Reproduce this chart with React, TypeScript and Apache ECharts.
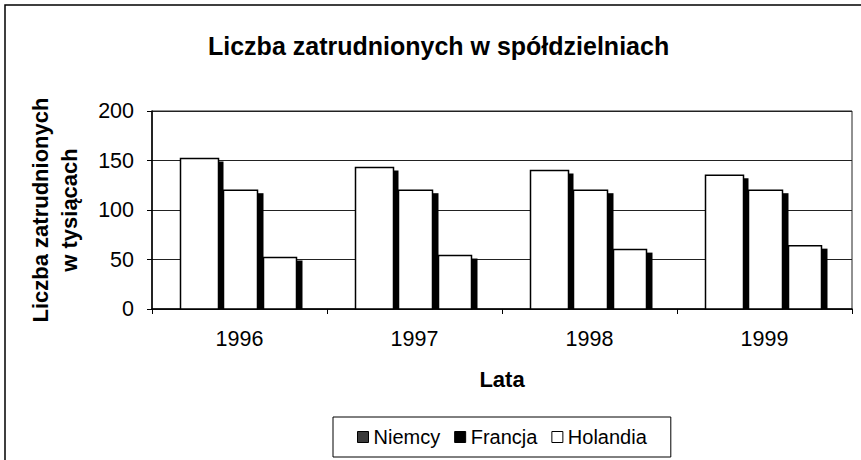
import React, { useEffect, useRef } from "react";
import * as echarts from "echarts";

const years = ["1996", "1997", "1998", "1999"];
const niemcy = [152, 143, 140, 135];
const francja = [120, 120, 120, 120];
const holandia = [52, 54, 60, 64];
const seriesNames = ["Niemcy", "Francja", "Holandia"];
const seriesValues = [niemcy, francja, holandia];
const yMin = 0;
const yMax = 200;
const yInterval = 50;

const FONT = "Arial, 'Liberation Sans', Helvetica, sans-serif";

// bar geometry (pixels at a 175px category band)
const barStart = [-59, -16, 24];
const barWidth = [38, 34, 33];
const shadowWidth = [5, 6, 6];

const legendColors = ["#3a3a3a", "#000000", "#ffffff"];

function makeRenderItem(k: number) {
  return (params: any, api: any) => {
    const ci = api.value(0);
    const v = api.value(1);
    const base = api.coord([ci, 0]);
    const top = api.coord([ci, v]);
    const band = api.size([1, 0])[0];
    const s = band / 175;
    const x = base[0] + barStart[k] * s;
    const w = barWidth[k] * s;
    const sw = shadowWidth[k] * s;
    const h = base[1] - top[1];
    return {
      type: "group",
      children: [
        {
          type: "rect",
          shape: { x: x + w, y: top[1] + 3, width: sw, height: h - 3 },
          style: { fill: "#000" },
        },
        {
          type: "rect",
          shape: { x, y: top[1], width: w, height: h },
          style: { fill: "#fff", stroke: "#000", lineWidth: 1.5 },
        },
      ],
    };
  };
}

export default function App() {
  const ref = useRef<HTMLDivElement>(null);
  useEffect(() => {
    if (!ref.current) return;
    const chart = echarts.init(ref.current, null, { renderer: "svg" });
    chart.setOption({
      animation: false,
      backgroundColor: "#fff",
      title: {
        text: "Liczba zatrudnionych w spółdzielniach",
        left: 203,
        top: 28,
        textStyle: { fontFamily: FONT, fontSize: 25, fontWeight: "bold", color: "#000" },
      },
      graphic: [
        {
          type: "rect",
          shape: { x: 5, y: 5, width: 900, height: 500 },
          style: { fill: "none", stroke: "#000", lineWidth: 1.5 },
          silent: true,
        },
      ],
      legend: {
        data: seriesNames.map((n, i) => ({
          name: n,
          itemStyle: { color: legendColors[i], borderColor: "#000", borderWidth: 1 },
        })),
        icon: "rect",
        itemWidth: 11,
        itemHeight: 11,
        itemGap: 14,
        left: 333,
        top: 417,
        padding: [10, 24, 10, 24],
        borderColor: "#000",
        borderWidth: 1,
        textStyle: { fontFamily: FONT, fontSize: 20, color: "#000" },
      },
      grid: {
        left: 152,
        right: 9,
        top: 111,
        bottom: 151,
        show: true,
        borderColor: "#222",
        borderWidth: 1,
        containLabel: false,
      },
      xAxis: {
        type: "category",
        data: years,
        name: "Lata",
        nameLocation: "middle",
        nameGap: 59,
        nameTextStyle: { fontFamily: FONT, fontSize: 22, fontWeight: "bold", color: "#000" },
        axisLine: { lineStyle: { color: "#000", width: 1.5 } },
        axisTick: { show: true, length: 5, lineStyle: { color: "#000" } },
        axisLabel: { margin: 19, fontFamily: FONT, fontSize: 21.5, color: "#000" },
        splitLine: { show: false },
      },
      yAxis: {
        type: "value",
        min: yMin,
        max: yMax,
        interval: yInterval,
        name: "Liczba zatrudnionych\nw tysiącach",
        nameLocation: "middle",
        nameRotate: 90,
        nameGap: 68,
        nameTextStyle: {
          fontFamily: FONT,
          fontSize: 22,
          fontWeight: "bold",
          color: "#000",
          lineHeight: 29,
        },
        axisLine: { show: true, lineStyle: { color: "#000", width: 1.5 } },
        axisTick: { show: true, length: 5, lineStyle: { color: "#000" } },
        axisLabel: { margin: 18, fontFamily: FONT, fontSize: 21.5, color: "#000" },
        splitLine: { show: true, lineStyle: { color: "#222", width: 1 } },
      },
      series: seriesNames.map((n, k) => ({
        type: "custom",
        name: n,
        renderItem: makeRenderItem(k),
        encode: { x: 0, y: 1 },
        itemStyle: { color: legendColors[k] },
        data: years.map((_, i) => [i, seriesValues[k][i]]),
      })),
    });
    return () => chart.dispose();
  }, []);
  return (
    <div
      ref={ref}
      style={{ position: "fixed", left: 0, top: 0, width: 861, height: 460, background: "#fff" }}
    />
  );
}
